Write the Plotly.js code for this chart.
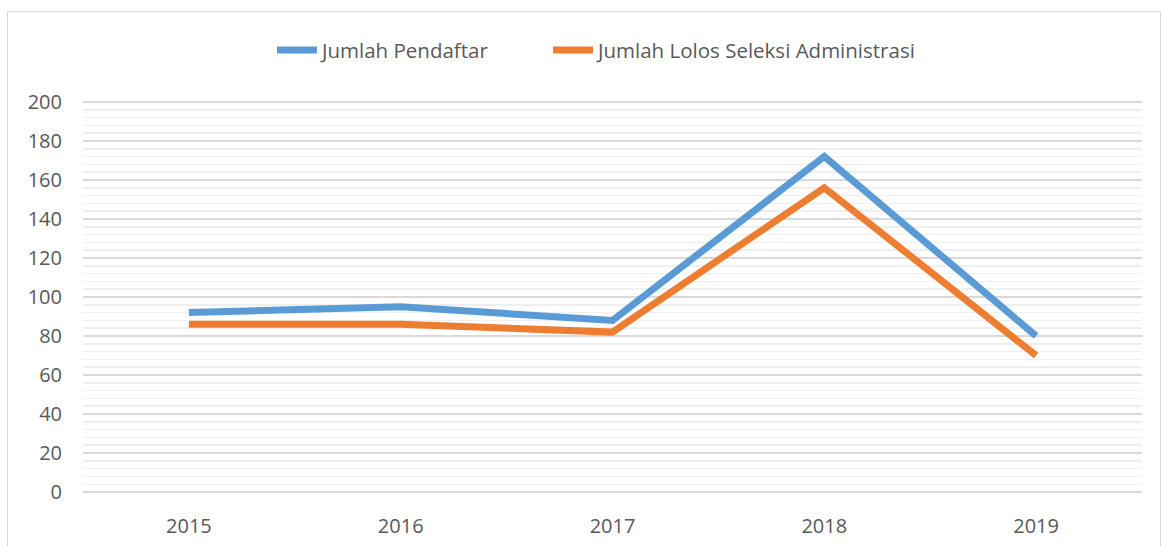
<!DOCTYPE html>
<html>
<head>
<meta charset="utf-8">
<script src="https://cdn.plot.ly/plotly-3.0.1.min.js"></script>
<style>
body{margin:0;padding:0;background:#fff;}
#wrap{position:relative;width:1162px;height:546px;}
#chart{position:absolute;left:0;top:0;width:1162px;height:546px;}
#frame{position:absolute;left:7px;top:11px;width:1152px;height:545px;border:1px solid #d9d9d9;pointer-events:none;}
</style>
</head>
<body>
<div id="wrap"><div id="chart"></div><div id="frame"></div></div>
<script>
const years = ['2015', '2016', '2017', '2018', '2019'];
const pendaftar = [92, 95, 88, 172, 80];
const lolosAdministrasi = [86, 86, 82, 156, 70];
const seriesNames = ['Jumlah Pendaftar', 'Jumlah Lolos Seleksi Administrasi'];

const traces = [
  {x: years, y: pendaftar, name: seriesNames[0], type: 'scatter', mode: 'lines',
   line: {color: '#5B9BD5', width: 7}, legend: 'legend'},
  {x: years, y: lolosAdministrasi, name: seriesNames[1], type: 'scatter', mode: 'lines',
   line: {color: '#ED7D31', width: 7}, legend: 'legend2'}
];

const legendBase = {orientation: 'h', xref: 'container', yref: 'container', xanchor: 'left',
  y: 0.908, yanchor: 'middle', font: {size: 20.5, color: '#595959'}, itemwidth: 40,
  bgcolor: 'rgba(0,0,0,0)'};

const layout = {
  width: 1162, height: 546,
  margin: {l: 83, r: 20, t: 100, b: 52},
  paper_bgcolor: '#ffffff', plot_bgcolor: '#ffffff',
  font: {family: 'Open Sans, sans-serif', size: 20, color: '#595959'},
  showlegend: true,
  legend: Object.assign({}, legendBase, {x: 272 / 1162}),
  legend2: Object.assign({}, legendBase, {x: 548 / 1162}),
  xaxis: {type: 'category', range: [-0.5, 4.5], showgrid: false, zeroline: false,
          showline: false, ticks: '', ticklabelstandoff: 18, fixedrange: true, automargin: false},
  yaxis: {range: [-1, 201], dtick: 20, tick0: 0, showgrid: true, gridcolor: '#d9d9d9', gridwidth: 1.5,
          zeroline: false, showline: false, ticks: '', ticklabelstandoff: 20, automargin: false,
          minor: {dtick: 4, showgrid: true, gridcolor: '#efefef', gridwidth: 1.5}}
};

Plotly.newPlot('chart', traces, layout, {displayModeBar: false, staticPlot: true});
</script>
</body>
</html>
